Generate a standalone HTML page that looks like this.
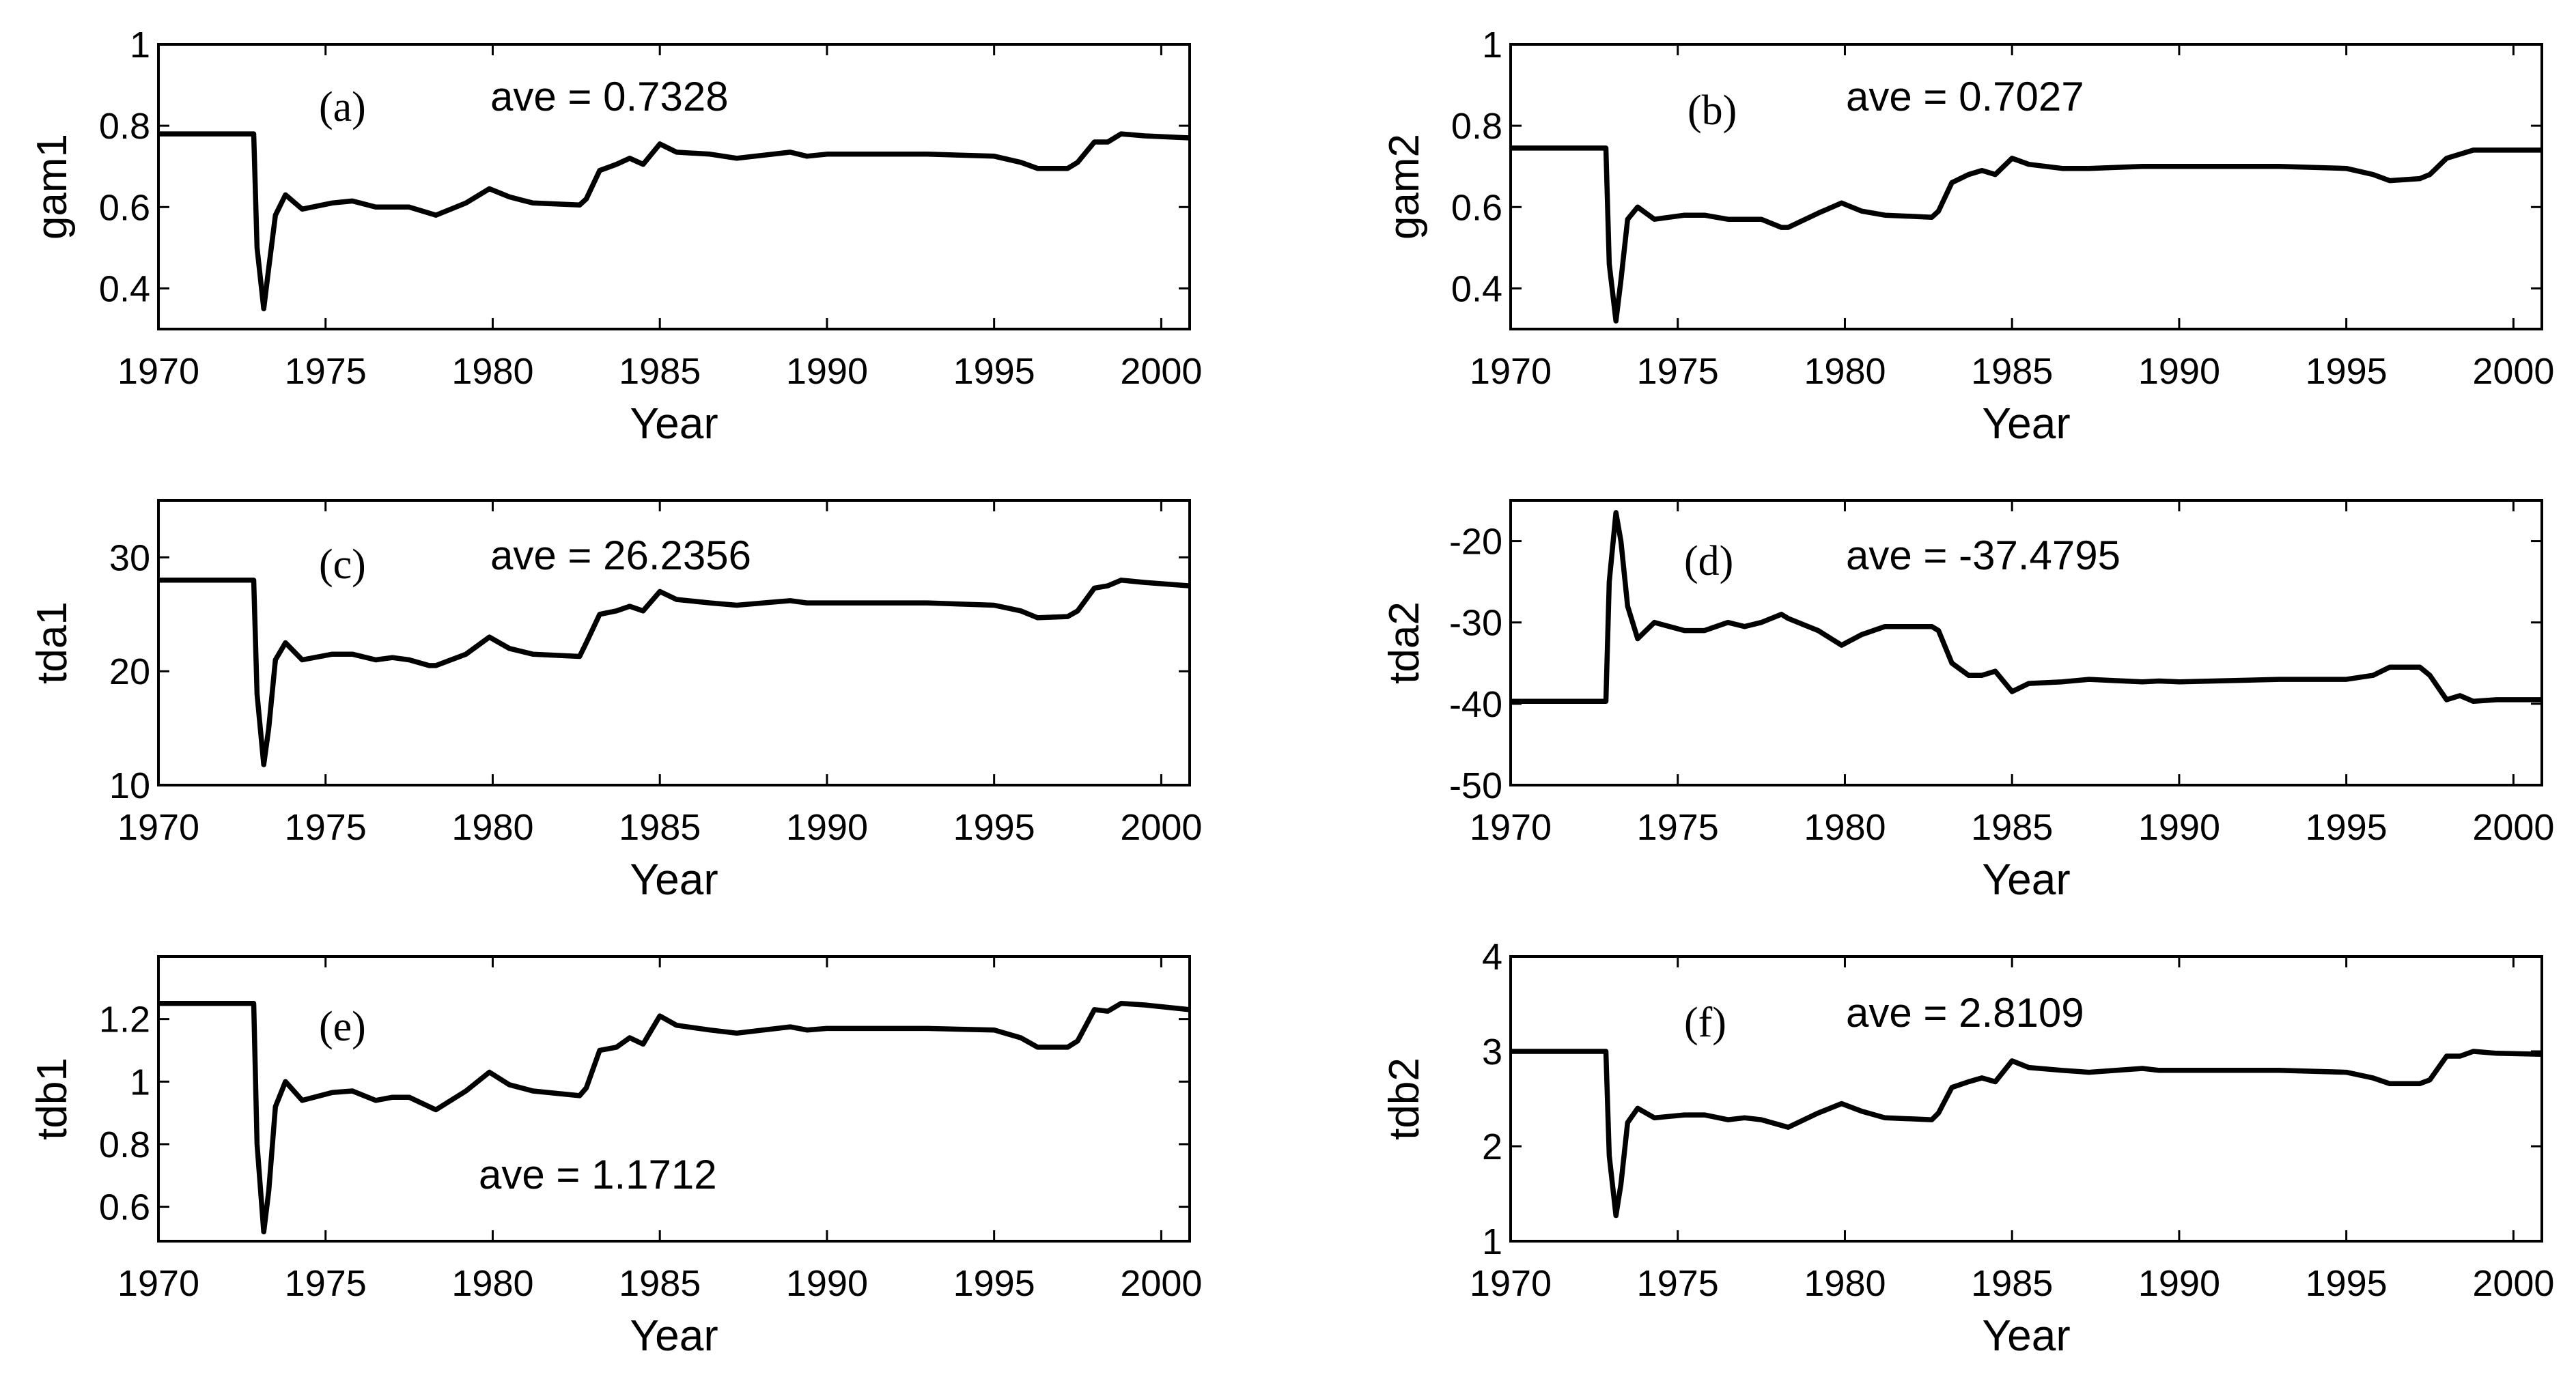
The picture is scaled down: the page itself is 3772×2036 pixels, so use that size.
<!DOCTYPE html>
<html><head><meta charset="utf-8"><style>
html,body{margin:0;padding:0;background:#fff;}
svg{display:block;}
text{fill:#000;}
</style></head><body>
<svg id="fig" width="3772" height="2036" viewBox="0 0 3772 2036" xmlns="http://www.w3.org/2000/svg"></svg>
<script>
const years=[1970,1972.85,1972.95,1973.15,1973.3,1973.5,1973.8,1974.3,1975.2,1975.8,1976.5,1977,1977.5,1978.1,1978.3,1979.2,1979.9,1980.5,1981.2,1982.6,1982.8,1983.2,1983.7,1984.1,1984.5,1985,1985.5,1986.5,1987.3,1988.9,1989.4,1990,1993,1995,1995.8,1996.3,1997.2,1997.5,1998,1998.4,1998.8,1999.5,2000.85];
const gam1=[0.78,0.78,0.5,0.35,0.45,0.58,0.63,0.595,0.61,0.615,0.60,0.60,0.60,0.585,0.58,0.61,0.645,0.625,0.61,0.605,0.62,0.69,0.705,0.72,0.705,0.755,0.735,0.73,0.72,0.735,0.725,0.73,0.73,0.725,0.71,0.695,0.695,0.71,0.76,0.76,0.78,0.775,0.77];
const gam2=[0.745,0.745,0.46,0.32,0.42,0.57,0.60,0.57,0.58,0.58,0.57,0.57,0.57,0.55,0.55,0.585,0.61,0.59,0.58,0.575,0.59,0.66,0.68,0.69,0.68,0.72,0.705,0.695,0.695,0.70,0.70,0.70,0.70,0.695,0.68,0.665,0.67,0.68,0.72,0.73,0.74,0.74,0.74];
const tda1=[28,28,18,11.8,15,21,22.5,21,21.5,21.5,21,21.2,21,20.5,20.5,21.5,23,22,21.5,21.3,22.5,25,25.3,25.7,25.3,27,26.3,26,25.8,26.2,26,26,26,25.8,25.3,24.7,24.8,25.3,27.3,27.5,28,27.8,27.5];
const tda2=[-39.7,-39.7,-25,-16.5,-20,-28,-32,-30,-31,-31,-30,-30.5,-30,-29,-29.5,-31,-32.8,-31.5,-30.5,-30.5,-31,-35,-36.5,-36.5,-36,-38.5,-37.5,-37.3,-37,-37.3,-37.2,-37.3,-37,-37,-36.5,-35.5,-35.5,-36.5,-39.5,-39,-39.7,-39.5,-39.5];
const tdb1=[1.25,1.25,0.8,0.52,0.65,0.92,1.0,0.94,0.965,0.97,0.94,0.95,0.95,0.92,0.91,0.97,1.03,0.99,0.97,0.955,0.98,1.10,1.11,1.14,1.12,1.21,1.18,1.165,1.155,1.175,1.165,1.17,1.17,1.165,1.14,1.11,1.11,1.13,1.23,1.225,1.25,1.245,1.23];
const tdb2=[3,3,1.9,1.27,1.6,2.25,2.4,2.3,2.33,2.33,2.28,2.3,2.28,2.22,2.2,2.35,2.45,2.37,2.3,2.28,2.35,2.62,2.68,2.72,2.68,2.9,2.83,2.8,2.78,2.82,2.8,2.8,2.8,2.78,2.72,2.66,2.66,2.7,2.95,2.95,3.0,2.98,2.97];
const xTicks=[1970,1975,1980,1985,1990,1995,2000];
const ticksA=[0.4,0.6,0.8,1];
const ticksC=[10,20,30];
const ticksD=[-50,-40,-30,-20];
const ticksE=[0.6,0.8,1,1.2];
const ticksF=[1,2,3,4];
const labelsA=['0.4','0.6','0.8','1'];
const labelsC=['10','20','30'];
const labelsD=['-50','-40','-30','-20'];
const labelsE=['0.6','0.8','1','1.2'];
const labelsF=['1','2','3','4'];

const NS='http://www.w3.org/2000/svg';
const svg=document.getElementById('fig');
function mk(tag,attrs,parent){const e=document.createElementNS(NS,tag);for(const k in attrs)e.setAttribute(k,attrs[k]);(parent||svg).appendChild(e);return e;}

const panels=[
 {id:'a',name:'gam1',vals:gam1,ymin:0.3,ymax:1,ticks:ticksA,labels:labelsA,x:232,y:65,ax:718,ay:140,lx:467,ly:157},
 {id:'b',name:'gam2',vals:gam2,ymin:0.3,ymax:1,ticks:ticksA,labels:labelsA,x:2212,y:65,ax:2703,ay:140,lx:2471,ly:162},
 {id:'c',name:'tda1',vals:tda1,ymin:10,ymax:35,ticks:ticksC,labels:labelsC,x:232,y:733,ax:718,ay:812,lx:467,ly:827},
 {id:'d',name:'tda2',vals:tda2,ymin:-50,ymax:-15,ticks:ticksD,labels:labelsD,x:2212,y:733,ax:2703,ay:812,lx:2466,ly:822},
 {id:'e',name:'tdb1',vals:tdb1,ymin:0.49,ymax:1.4,ticks:ticksE,labels:labelsE,x:232,y:1401,ax:701,ay:1719,lx:467,ly:1504},
 {id:'f',name:'tdb2',vals:tdb2,ymin:1,ymax:4,ticks:ticksF,labels:labelsF,x:2212,y:1401,ax:2703,ay:1482,lx:2466,ly:1498}
];
const W=1510,H=417,XMIN=1970,XMAX=2000.85;
const aves={a:'ave = 0.7328',b:'ave = 0.7027',c:'ave = 26.2356',d:'ave = -37.4795',e:'ave = 1.1712',f:'ave = 2.8109'};

panels.forEach(p=>{
  const g=mk('g',{});
  
  
  const sx=v=>p.x+(v-XMIN)/(XMAX-XMIN)*W;
  const sy=v=>p.y+H-(v-p.ymin)/(p.ymax-p.ymin)*H;
  let d='';
  years.forEach((yr,i)=>{d+=(i?'L':'M')+sx(yr).toFixed(1)+','+sy(p.vals[i]).toFixed(1);});
  const line=mk('path',{d:d,fill:'none',stroke:'#000','stroke-width':7.5,'stroke-linejoin':'round'},g);
  
  
  const fr=mk('rect',{x:p.x,y:p.y,width:W,height:H,fill:'none',stroke:'#000','stroke-width':4},g);
  
  
  xTicks.forEach(t=>{
    const X=sx(t);
    mk('line',{x1:X,y1:p.y+H,x2:X,y2:p.y+H-16,stroke:'#000','stroke-width':3},g);
    mk('line',{x1:X,y1:p.y,x2:X,y2:p.y+16,stroke:'#000','stroke-width':3},g);
    const tl=mk('text',{x:X,y:p.y+H+80,'text-anchor':'middle','font-family':'Liberation Sans, sans-serif','font-size':54},g);
    tl.textContent=String(t);
    
    
  });
  p.ticks.forEach((t,i)=>{
    const Y=sy(t);
    mk('line',{x1:p.x,y1:Y,x2:p.x+16,y2:Y,stroke:'#000','stroke-width':3},g);
    mk('line',{x1:p.x+W,y1:Y,x2:p.x+W-16,y2:Y,stroke:'#000','stroke-width':3},g);
    const tl=mk('text',{x:p.x-12,y:Y+19,'text-anchor':'end','font-family':'Liberation Sans, sans-serif','font-size':54},g);
    tl.textContent=p.labels[i];
    
    
  });
  const xl=mk('text',{x:p.x+W/2,y:p.y+H+160,'text-anchor':'middle','font-family':'Liberation Sans, sans-serif','font-size':64},g);
  xl.textContent='Year';
  
  
  const yx=p.x-135,yc=p.y+H/2;
  const yl=mk('text',{x:yx,y:yc,'text-anchor':'middle','font-family':'Liberation Sans, sans-serif','font-size':62,transform:'rotate(-90 '+yx+' '+yc+')'},g);
  yl.textContent=p.name;
  
  
  const pl=mk('text',{x:p.lx,y:p.ly+20,'font-family':'Liberation Serif, serif','font-size':62},g);
  pl.textContent='('+p.id+')';
  
  
  const av=mk('text',{x:p.ax,y:p.ay+22,'font-family':'Liberation Sans, sans-serif','font-size':60},g);
  av.textContent=aves[p.id];
  
  
});
</script>
</body></html>
